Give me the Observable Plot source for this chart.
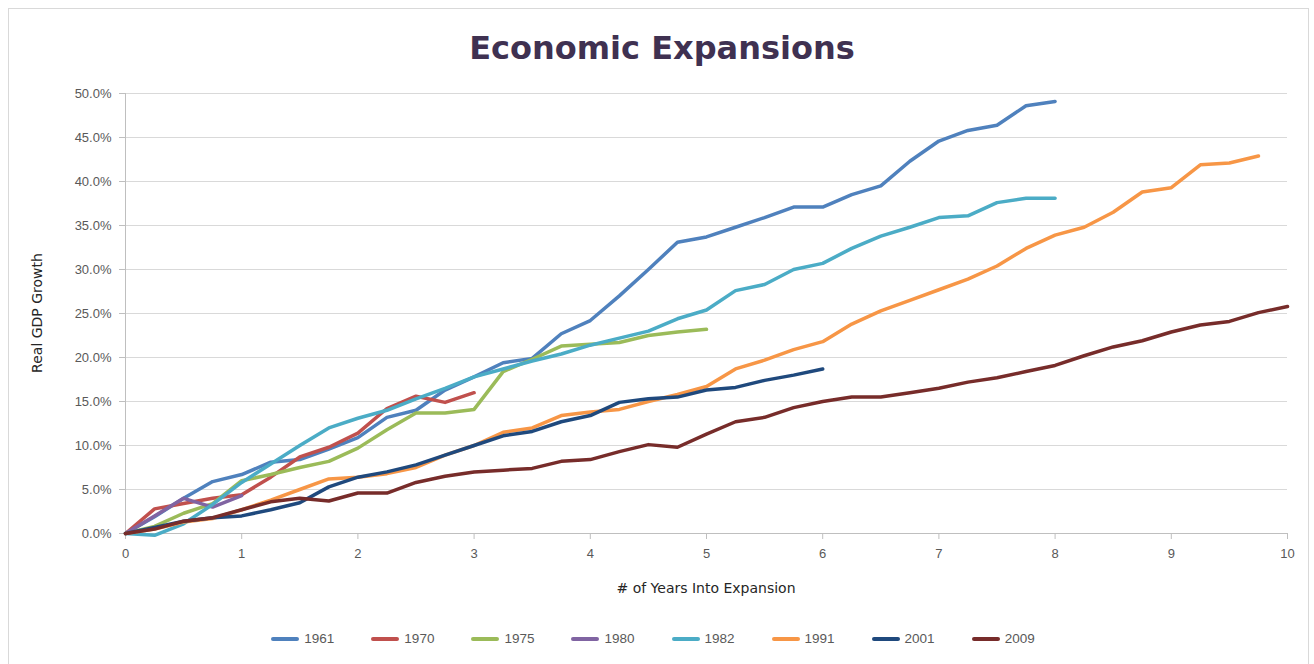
<!DOCTYPE html>
<html>
<head>
<meta charset="utf-8">
<script src="https://cdn.jsdelivr.net/npm/d3@7"></script>
<script src="https://cdn.jsdelivr.net/npm/@observablehq/plot@0.6"></script>
<style>
  html, body { margin: 0; padding: 0; background: #fff; }
  body { width: 1314px; height: 664px; position: relative; overflow: hidden; font-family: "Liberation Sans", Arial, sans-serif; }
  #frame { position: absolute; left: 8px; top: 8px; width: 1301px; height: 700px; border: 1px solid #d9d9d9; box-sizing: border-box; }
  #title { position: absolute; left: 5px; width: 1314px; top: 29px; text-align: center; font-family: "DejaVu Sans", sans-serif; font-weight: bold; font-size: 32px; color: #3f3151; }
  #chart { position: absolute; left: 0; top: 70px; }
  #ytitle { position: absolute; left: 37px; top: 313px; transform: translate(-50%, -50%) rotate(-90deg); font-size: 14px; color: #262626; white-space: nowrap; font-family: "DejaVu Sans", sans-serif; }
  #xtitle { position: absolute; left: 706px; top: 588px; transform: translate(-50%, -50%); font-size: 14px; color: #262626; white-space: nowrap; font-family: "DejaVu Sans", sans-serif; }
  #legend { position: absolute; left: -4px; width: 1314px; top: 631px; display: flex; justify-content: center; gap: 37px; }
  .item { display: flex; align-items: center; gap: 5px; font-size: 13.5px; color: #595959; }
  .swatch { width: 28px; height: 4px; border-radius: 2px; }
</style>
</head>
<body>
<div id="frame"></div>
<div id="title">Economic Expansions</div>
<div id="chart"></div>
<div id="ytitle">Real GDP Growth</div>
<div id="xtitle"># of Years Into Expansion</div>
<div id="legend"></div>
<script>
// Cumulative real GDP growth (%) by quarter since the start of each expansion
const quarterStep = 0.25;
const series = ["1961", "1970", "1975", "1980", "1982", "1991", "2001", "2009"];
const colors = ["#4f81bd", "#c0504d", "#9bbb59", "#8064a2", "#4bacc6", "#f79646", "#1f497d", "#772c2a"];

const g1961 = [0, 1.9, 4.0, 5.9, 6.7, 8.1, 8.4, 9.6, 10.9, 13.2, 14.0, 16.3, 17.8, 19.4, 19.9, 22.7, 24.2, 27.0, 30.0, 33.1, 33.7, 34.8, 35.9, 37.1, 37.1, 38.5, 39.5, 42.3, 44.6, 45.8, 46.4, 48.6, 49.1];
const g1970 = [0, 2.8, 3.4, 4.0, 4.4, 6.4, 8.7, 9.8, 11.4, 14.2, 15.6, 14.9, 16.0];
const g1975 = [0, 0.8, 2.3, 3.4, 6.0, 6.7, 7.5, 8.2, 9.7, 11.8, 13.7, 13.7, 14.1, 18.4, 19.8, 21.3, 21.5, 21.7, 22.5, 22.9, 23.2];
const g1980 = [0, 2.0, 4.0, 3.0, 4.3];
const g1982 = [0, -0.2, 1.1, 3.3, 5.8, 7.9, 10.0, 12.0, 13.1, 14.0, 15.3, 16.5, 17.8, 18.7, 19.6, 20.4, 21.4, 22.2, 23.0, 24.4, 25.4, 27.6, 28.3, 30.0, 30.7, 32.4, 33.8, 34.8, 35.9, 36.1, 37.6, 38.1, 38.1];
const g1991 = [0, 0.5, 1.3, 1.7, 2.7, 3.8, 5.0, 6.2, 6.4, 6.8, 7.5, 8.9, 10.0, 11.5, 12.0, 13.4, 13.8, 14.1, 15.0, 15.8, 16.7, 18.7, 19.7, 20.9, 21.8, 23.8, 25.3, 26.5, 27.7, 28.9, 30.4, 32.4, 33.9, 34.8, 36.5, 38.8, 39.3, 41.9, 42.1, 42.9];
const g2001 = [0, 0.7, 1.4, 1.8, 2.0, 2.7, 3.5, 5.3, 6.4, 7.0, 7.8, 8.9, 10.0, 11.1, 11.6, 12.7, 13.4, 14.9, 15.3, 15.5, 16.3, 16.6, 17.4, 18.0, 18.7];
const g2009 = [0, 0.5, 1.4, 1.8, 2.7, 3.6, 4.0, 3.7, 4.6, 4.6, 5.8, 6.5, 7.0, 7.2, 7.4, 8.2, 8.4, 9.3, 10.1, 9.8, 11.3, 12.7, 13.2, 14.3, 15.0, 15.5, 15.5, 16.0, 16.5, 17.2, 17.7, 18.4, 19.1, 20.2, 21.2, 21.9, 22.9, 23.7, 24.1, 25.1, 25.8];

const xTicks = [0, 1, 2, 3, 4, 5, 6, 7, 8, 9, 10];
const yTicks = [0, 5, 10, 15, 20, 25, 30, 35, 40, 45, 50];

const valuesBySeries = [g1961, g1970, g1975, g1980, g1982, g1991, g2001, g2009];
const rows = [];
series.forEach((name, k) => {
  valuesBySeries[k].forEach((v, i) => rows.push({series: name, years: i * quarterStep, growth: v}));
});

const axisGrey = "#bfbfbf";
const textGrey = "#595959";

const chart = Plot.plot({
  width: 1314,
  height: 500,
  marginLeft: 125,
  marginRight: 27,
  marginTop: 23,
  marginBottom: 37,
  style: {fontFamily: "Liberation Sans, Arial, sans-serif", fontSize: "13px", background: "transparent"},
  x: {domain: [0, 10]},
  y: {domain: [0, 50]},
  color: {domain: series, range: colors},
  marks: [
    Plot.gridY(yTicks, {stroke: "#d9d9d9", strokeOpacity: 1, strokeWidth: 1}),
    Plot.axisY(yTicks, {tickSize: 6, tickPadding: 8, tickFormat: d => d.toFixed(1) + "%", stroke: axisGrey, fill: textGrey, label: null}),
    Plot.axisX(xTicks, {tickSize: 6, tickPadding: 9, tickFormat: d => String(d), stroke: axisGrey, fill: textGrey, label: null}),
    Plot.ruleX([0], {stroke: axisGrey}),
    Plot.ruleY([0], {stroke: axisGrey}),
    Plot.line(rows, {x: "years", y: "growth", z: "series", stroke: "series", strokeWidth: 3.5, strokeLinejoin: "round", strokeLinecap: "round"})
  ]
});
document.getElementById("chart").appendChild(chart);

const legend = document.getElementById("legend");
series.forEach((name, k) => {
  const item = document.createElement("div");
  item.className = "item";
  const sw = document.createElement("div");
  sw.className = "swatch";
  sw.style.background = colors[k];
  const label = document.createElement("span");
  label.textContent = name;
  item.appendChild(sw);
  item.appendChild(label);
  legend.appendChild(item);
});
</script>
</body>
</html>
